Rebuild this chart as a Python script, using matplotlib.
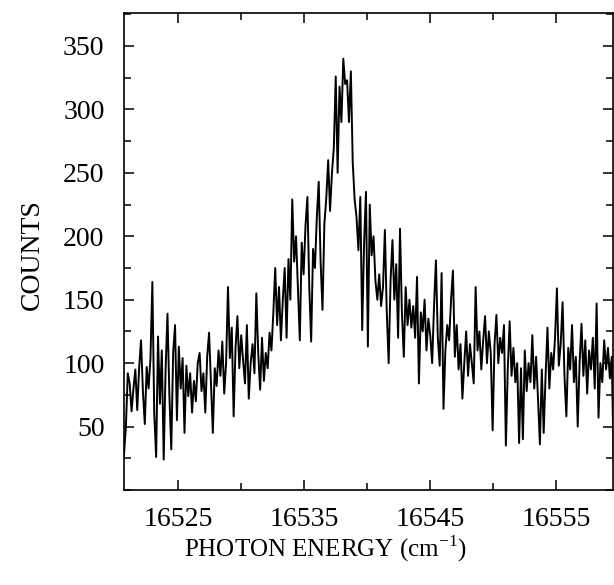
import numpy as np
import matplotlib
matplotlib.use("Agg")
import matplotlib.pyplot as plt
from matplotlib.ticker import MultipleLocator, FixedLocator

plt.rcParams['font.family'] = ['Liberation Serif', 'DejaVu Serif']
plt.rcParams['mathtext.fontset'] = 'custom'
plt.rcParams['mathtext.rm'] = 'Liberation Serif'

# spectrum: first energy, step, counts
x_start = 16520.7
x_step = 0.15
counts = [
    28, 50, 92, 84, 62, 80, 95, 63, 96, 118,
    78, 52, 97, 80, 104, 164, 60, 26, 121, 68,
    110, 24, 95, 139, 75, 32, 108, 130, 55, 113,
    80, 104, 45, 98, 74, 92, 61, 86, 70, 100,
    108, 78, 92, 61, 105, 124, 84, 45, 96, 82,
    110, 90, 117, 76, 100, 160, 104, 128, 58, 112,
    137, 96, 122, 102, 84, 130, 72, 100, 115, 92,
    155, 108, 79, 120, 86, 108, 96, 124, 110, 140,
    175, 130, 160, 118, 150, 175, 120, 182, 150, 229,
    180, 200, 160, 118, 195, 170, 208, 231, 160, 117,
    190, 175, 215, 243, 180, 142, 210, 230, 260, 220,
    250, 270, 326, 250, 318, 290, 340, 320, 323, 290,
    330, 258, 229, 215, 189, 231, 126, 195, 235, 113,
    225, 185, 200, 165, 150, 170, 145, 160, 205, 140,
    100, 165, 197, 150, 178, 120, 206, 140, 105, 160,
    130, 150, 128, 145, 120, 168, 84, 140, 125, 150,
    110, 135, 122, 100, 145, 181, 120, 98, 171, 64,
    110, 130, 118, 150, 173, 105, 130, 95, 115, 72,
    100, 125, 90, 115, 100, 84, 160, 110, 125, 95,
    118, 137, 100, 125, 108, 47, 115, 138, 100, 120,
    108, 130, 35, 95, 133, 90, 112, 85, 100, 37,
    96, 40, 110, 78, 100, 85, 122, 80, 105, 72,
    36, 95, 45, 90, 128, 80, 108, 95, 120, 159,
    98, 115, 148, 90, 58, 112, 95, 130, 85, 105,
    50, 100, 131, 90, 118, 76, 110, 95, 120, 80,
    147, 57, 100, 85, 118, 95, 112, 88, 105, 24,
]
energy = x_start + x_step * np.arange(len(counts))

xticks_major = [16525, 16535, 16545, 16555]
xticks_minor = [16530, 16540, 16550]

fig = plt.figure(figsize=(6.14, 5.85), dpi=100)
ax = fig.add_axes([124/614, 95/585, 489/614, 477/585])

ax.plot(energy, counts, color='black', lw=1.4)

ax.set_xlim(16520.7, 16559.5)
ax.set_ylim(0, 376)

ax.xaxis.set_major_locator(FixedLocator(xticks_major))
ax.xaxis.set_minor_locator(FixedLocator(xticks_minor))
ax.yaxis.set_major_locator(MultipleLocator(50))
ax.yaxis.set_minor_locator(MultipleLocator(25))
ax.set_yticks([50, 100, 150, 200, 250, 300, 350])

ax.tick_params(which='both', direction='in', top=True, right=True,
               width=1.1, labelsize=20)
ax.tick_params(which='major', length=7.5)
ax.tick_params(which='minor', length=5)
ax.tick_params(axis='x', pad=12)
ax.tick_params(axis='y', pad=14)
for s in ax.spines.values():
    s.set_linewidth(1.2)

fig.text(325/614, 1 - 549/585, r'PHOTON ENERGY $(\mathrm{cm}^{-1})$',
         ha='center', va='center', fontsize=18)
fig.text(32/614, 1 - 255/585, 'COUNTS', rotation=90,
         ha='center', va='center', fontsize=20)

fig.savefig('out.png', dpi=100)
